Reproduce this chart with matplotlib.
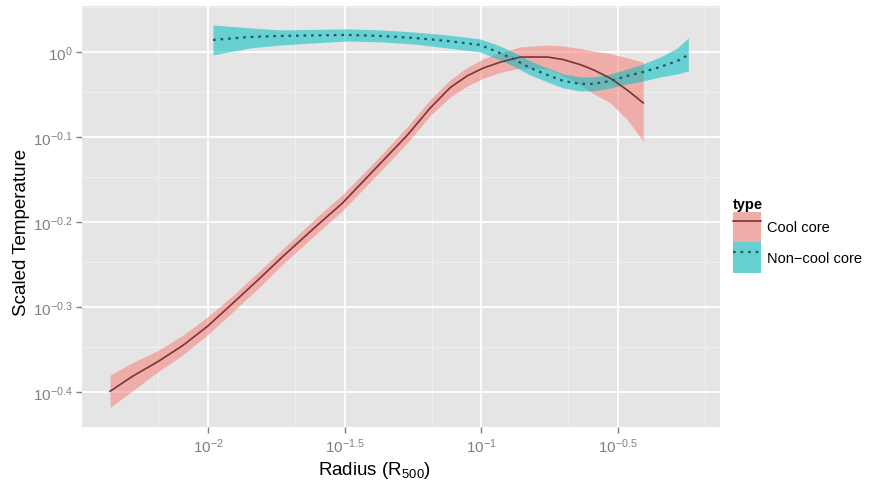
import numpy as np
import matplotlib
matplotlib.use("Agg")
import matplotlib.pyplot as plt
from matplotlib.patches import Patch
from matplotlib.lines import Line2D
from matplotlib.legend_handler import HandlerTuple

plt.rcParams['font.family'] = ['Liberation Sans', 'DejaVu Sans']
plt.rcParams['mathtext.fontset'] = 'custom'
plt.rcParams['mathtext.rm'] = 'Liberation Sans'
plt.rcParams['mathtext.it'] = 'Liberation Sans:italic'
plt.rcParams['mathtext.bf'] = 'Liberation Sans:bold'

# smoothed fits, stored as log10 values
cc_logr = [-2.359, -2.275, -2.183, -2.092, -2.000, -1.908, -1.817, -1.725, -1.601, -1.509,
           -1.396, -1.271, -1.187, -1.114, -1.051, -0.993, -0.930, -0.857, -0.758, -0.700,
           -0.637, -0.590, -0.527, -0.465, -0.407]
cc_logt = [-0.399, -0.381, -0.364, -0.345, -0.322, -0.295, -0.268, -0.240, -0.204, -0.178,
           -0.140, -0.098, -0.066, -0.042, -0.028, -0.019, -0.012, -0.006, -0.006, -0.009,
           -0.015, -0.021, -0.031, -0.045, -0.060]
cc_hi = [-0.380, -0.365, -0.351, -0.333, -0.311, -0.286, -0.259, -0.231, -0.194, -0.168,
         -0.131, -0.088, -0.056, -0.033, -0.018, -0.008, -0.001, 0.006, 0.008, 0.007,
         0.004, 0.001, -0.002, -0.007, -0.012]
cc_lo = [-0.418, -0.398, -0.376, -0.356, -0.332, -0.305, -0.278, -0.249, -0.213, -0.187,
         -0.149, -0.107, -0.075, -0.053, -0.040, -0.031, -0.024, -0.019, -0.020, -0.028,
         -0.039, -0.049, -0.060, -0.080, -0.105]

ncc_logr = [-1.982, -1.846, -1.736, -1.491, -1.370, -1.249, -1.125, -1.004, -0.941, -0.883,
            -0.821, -0.758, -0.700, -0.637, -0.590, -0.527, -0.465, -0.407, -0.344, -0.282, -0.242]
ncc_logt = [0.0141, 0.0176, 0.0188, 0.0200, 0.0188, 0.0165, 0.0129, 0.0082, 0.0000, -0.0082,
            -0.0188, -0.0271, -0.0341, -0.0376, -0.0376, -0.0341, -0.0282, -0.0235, -0.0176, -0.0106, -0.0035]
ncc_hi = [0.0318, 0.0282, 0.0259, 0.0271, 0.0259, 0.0235, 0.0200, 0.0153, 0.0082, 0.0000,
          -0.0106, -0.0188, -0.0259, -0.0294, -0.0294, -0.0259, -0.0200, -0.0141, -0.0059, 0.0047, 0.0165]
ncc_lo = [-0.0035, 0.0047, 0.0082, 0.0129, 0.0118, 0.0094, 0.0047, 0.0000, -0.0082, -0.0165,
          -0.0271, -0.0353, -0.0424, -0.0459, -0.0459, -0.0424, -0.0376, -0.0341, -0.0294, -0.0259, -0.0224]

x_breaks = [-2, -1.5, -1, -0.5]
x_labels = ['$10^{-2}$', '$10^{-1.5}$', '$10^{-1}$', '$10^{-0.5}$']
y_breaks = [-0.4, -0.3, -0.2, -0.1, 0]
y_labels = ['$10^{-0.4}$', '$10^{-0.3}$', '$10^{-0.2}$', '$10^{-0.1}$', '$10^{0}$']

panel_bg = '#E5E5E5'
red_fill = '#F8766D'
cyan_fill = '#00BFC4'
red_line = '#7A3434'
cyan_line = '#1C5A5C'
grey_txt = '#808080'
red_alpha = 0.5
cyan_alpha = 0.55

fig = plt.figure(figsize=(8.7, 4.85), dpi=100)
ax = fig.add_axes([0.0943, 0.1175, 0.7333, 0.8681])
ax.set_facecolor(panel_bg)
ax.set_xscale('log')
ax.set_yscale('log')

p = lambda v: 10 ** np.asarray(v)

ax.fill_between(p(cc_logr), p(cc_lo), p(cc_hi), color=red_fill, alpha=red_alpha, lw=0, zorder=3)
ax.fill_between(p(ncc_logr), p(ncc_lo), p(ncc_hi), color=cyan_fill, alpha=cyan_alpha, lw=0, zorder=3)
ax.plot(p(cc_logr), p(cc_logt), color=red_line, lw=1.2, zorder=4)
ax.plot(p(ncc_logr), p(ncc_logt), color=cyan_line, lw=1.6, ls=(0, (1.2, 2.2)), zorder=4)

ax.set_xlim(p(-2.4615), p(-0.126))
ax.set_ylim(p(-0.441), p(0.054))

# grid: major breaks plus minor breaks halfway between majors in data units
ax.minorticks_off()
ax.set_xticks(p(x_breaks))
ax.set_xticklabels(x_labels)
ax.set_yticks(p(y_breaks))
ax.set_yticklabels(y_labels)
x_minor = [(10 ** a + 10 ** b) / 2 for a, b in zip([-2.5] + x_breaks, x_breaks + [0])]
y_minor = [(10 ** a + 10 ** b) / 2 for a, b in zip([-0.5] + y_breaks, y_breaks + [0.1])]
for v in x_minor:
    ax.axvline(v, color='#F2F2F2', lw=0.6, zorder=1)
for v in y_minor:
    ax.axhline(v, color='#F2F2F2', lw=0.6, zorder=1)
for v in p(x_breaks):
    ax.axvline(v, color='white', lw=1.3, zorder=2)
for v in p(y_breaks):
    ax.axhline(v, color='white', lw=1.3, zorder=2)

for s in ax.spines.values():
    s.set_visible(False)
ax.tick_params(axis='both', colors=grey_txt, length=4, width=1, labelsize=11, pad=3)

ax.set_xlabel('Radius (R$_{500}$)', fontsize=13.5)
ax.set_ylabel('Scaled Temperature', fontsize=13.5)
ax.xaxis.set_label_coords(0.459, -0.075)
ax.yaxis.set_label_coords(-0.081, 0.464)

# legend keys: grey key background, translucent fill, then the line
handles = [
    (Patch(facecolor=panel_bg, edgecolor='none'),
     Patch(facecolor=red_fill, alpha=red_alpha, edgecolor='none'),
     Line2D([], [], color=red_line, lw=1.2)),
    (Patch(facecolor=panel_bg, edgecolor='none'),
     Patch(facecolor=cyan_fill, alpha=cyan_alpha, edgecolor='none'),
     Line2D([], [], color=cyan_line, lw=1.6, ls=(0, (1.2, 2.2)))),
]
leg = fig.legend(handles, ['Cool core', 'Non\u2212cool core'], title='type',
                 handler_map={tuple: HandlerTuple(ndivide=1, pad=0)},
                 loc='upper left', bbox_to_anchor=(0.839, 0.598), frameon=False,
                 fontsize=10.5, handlelength=1.9, handleheight=2.8, labelspacing=0.05,
                 handletextpad=0.45, borderaxespad=0, borderpad=0.2,
                 title_fontproperties={'weight': 'bold', 'size': 10.5}, alignment='left')

fig.savefig('out.png', dpi=100)
